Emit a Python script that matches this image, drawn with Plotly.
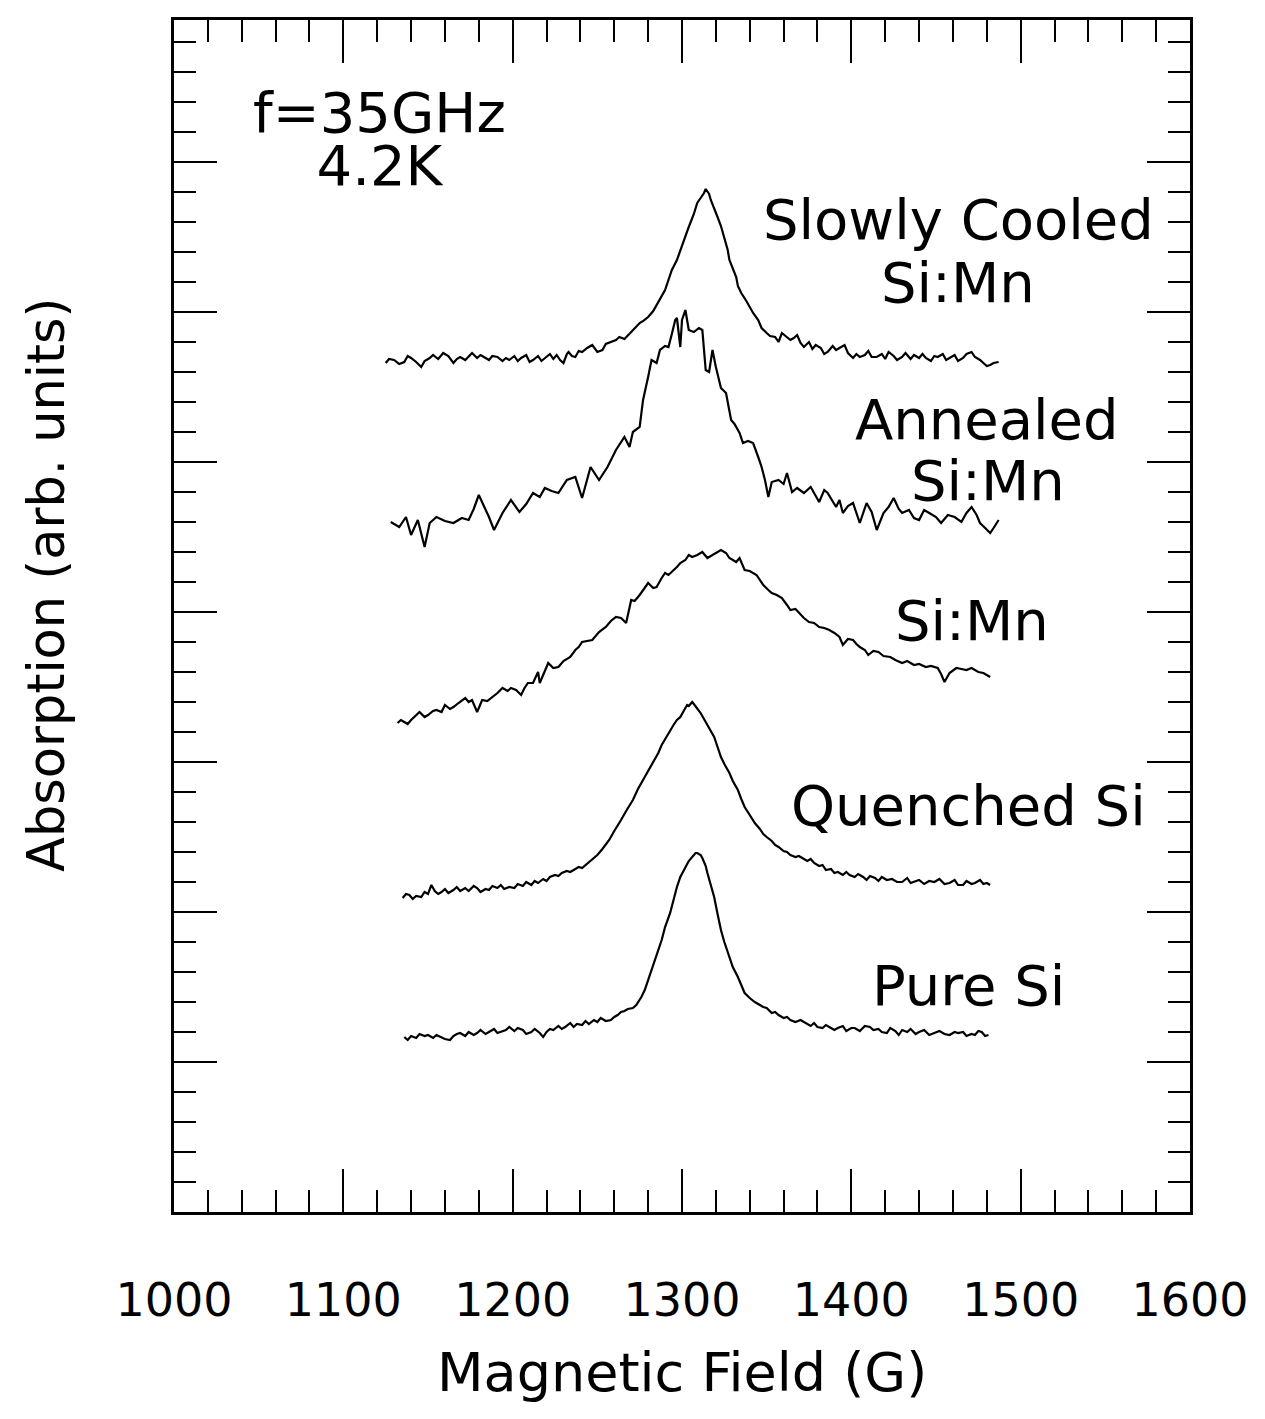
import plotly.graph_objects as go

# ---------------- data: (magnetic field [G], absorption [arb. units]) ----------------
slow_points = [
    (1125, 849), (1127, 853), (1130, 852), (1133, 848), (1136, 850), (1138, 856), (1140, 854),
    (1143, 850), (1146, 845), (1148, 851), (1151, 854), (1153, 857), (1156, 853), (1159, 859),
    (1162, 856), (1165, 849), (1167, 853), (1169, 855), (1172, 852), (1176, 859), (1179, 854),
    (1181, 857), (1183, 855), (1186, 852), (1188, 856), (1191, 855), (1194, 851), (1196, 854),
    (1198, 852), (1201, 856), (1203, 851), (1205, 854), (1208, 857), (1210, 850), (1212, 852),
    (1215, 856), (1217, 851), (1219, 854), (1222, 858), (1224, 853), (1226, 857), (1228, 852),
    (1230, 849), (1232, 858), (1233, 860), (1235, 856), (1237, 855), (1239, 861), (1241, 860),
    (1244, 864), (1247, 867), (1250, 860), (1253, 862), (1255, 868), (1258, 870), (1261, 872),
    (1263, 875), (1266, 873), (1270, 880), (1272, 884), (1275, 889), (1277, 891), (1280, 895),
    (1283, 901), (1285, 907), (1288, 915), (1290, 922), (1292, 932), (1294, 942), (1297, 952),
    (1299, 962), (1302, 975), (1304, 985), (1307, 998), (1309, 1009), (1311, 1014), (1313, 1019),
    (1314, 1023), (1316, 1018), (1317, 1012), (1319, 1004), (1321, 995), (1323, 986), (1325, 975),
    (1327, 962), (1328, 952), (1330, 943), (1332, 935), (1333, 926), (1335, 919), (1338, 911),
    (1340, 905), (1342, 899), (1345, 892), (1347, 884), (1350, 879), (1352, 876), (1355, 875),
    (1357, 870), (1359, 879), (1361, 876), (1364, 872), (1366, 874), (1368, 877), (1370, 869),
    (1372, 865), (1375, 870), (1377, 863), (1379, 867), (1382, 864), (1384, 858), (1386, 860),
    (1389, 866), (1391, 862), (1393, 864), (1396, 867), (1398, 859), (1401, 854), (1403, 858),
    (1405, 855), (1408, 857), (1410, 861), (1412, 855), (1415, 855), (1418, 858), (1420, 853),
    (1422, 860), (1425, 856), (1427, 852), (1430, 855), (1432, 859), (1435, 853), (1437, 857),
    (1440, 854), (1442, 858), (1444, 854), (1447, 851), (1449, 856), (1451, 855), (1454, 858),
    (1456, 852), (1458, 854), (1461, 857), (1463, 851), (1466, 854), (1468, 858), (1471, 860),
    (1473, 855), (1476, 852), (1478, 849), (1480, 846), (1482, 847), (1484, 849), (1487, 850),
]

ann_points = [
    (1128, 690), (1133, 685), (1137, 695), (1140, 677), (1144, 692), (1148, 665), (1151, 689),
    (1155, 695), (1160, 691), (1165, 689), (1170, 694), (1174, 692), (1177, 703), (1180, 717),
    (1183, 706), (1186, 695), (1189, 682), (1194, 699), (1199, 712), (1204, 700), (1208, 708),
    (1212, 719), (1216, 715), (1219, 724), (1223, 721), (1227, 719), (1232, 732), (1237, 735),
    (1241, 714), (1246, 745), (1251, 732), (1256, 745), (1261, 762), (1264, 770), (1266, 775),
    (1269, 765), (1271, 780), (1275, 785), (1277, 812), (1280, 835), (1282, 852), (1285, 849),
    (1287, 862), (1290, 866), (1292, 865), (1294, 878), (1296, 892), (1297, 894), (1299, 865),
    (1300, 892), (1302, 902), (1304, 882), (1307, 880), (1310, 884), (1312, 882), (1314, 842),
    (1316, 840), (1318, 862), (1320, 845), (1323, 824), (1326, 819), (1329, 792), (1331, 788),
    (1334, 779), (1336, 769), (1339, 771), (1342, 769), (1345, 755), (1347, 745), (1349, 732),
    (1351, 715), (1353, 730), (1357, 732), (1360, 728), (1362, 739), (1365, 720), (1368, 724),
    (1372, 719), (1376, 725), (1379, 716), (1381, 710), (1384, 722), (1386, 719), (1391, 705),
    (1393, 712), (1395, 699), (1398, 706), (1401, 709), (1405, 689), (1409, 709), (1412, 700),
    (1415, 682), (1419, 699), (1422, 705), (1425, 714), (1428, 703), (1430, 699), (1434, 702),
    (1437, 694), (1440, 692), (1443, 702), (1446, 699), (1450, 695), (1453, 689), (1457, 697),
    (1461, 695), (1465, 690), (1468, 699), (1471, 705), (1474, 697), (1476, 689), (1479, 684),
    (1482, 679), (1484, 684), (1487, 692),
]

simn_points = [
    (1132, 489), (1134, 492), (1136, 490), (1138, 488), (1140, 492), (1143, 497), (1145, 500),
    (1148, 495), (1150, 497), (1153, 501), (1155, 502), (1158, 500), (1160, 507), (1163, 503),
    (1165, 505), (1168, 509), (1172, 514), (1174, 510), (1176, 512), (1179, 500), (1182, 512),
    (1185, 511), (1188, 515), (1191, 519), (1194, 524), (1197, 521), (1199, 524), (1202, 522),
    (1205, 517), (1207, 524), (1209, 529), (1212, 529), (1215, 540), (1216, 529), (1219, 541),
    (1221, 549), (1224, 544), (1227, 545), (1230, 551), (1234, 555), (1237, 562), (1239, 565),
    (1241, 570), (1244, 571), (1247, 572), (1251, 580), (1255, 585), (1258, 591), (1261, 595),
    (1264, 594), (1267, 589), (1270, 612), (1272, 611), (1275, 617), (1277, 622), (1280, 629),
    (1283, 624), (1285, 625), (1288, 634), (1290, 639), (1292, 637), (1294, 640), (1297, 645),
    (1299, 649), (1302, 652), (1304, 657), (1306, 655), (1309, 657), (1312, 660), (1315, 654),
    (1318, 657), (1320, 659), (1323, 662), (1326, 659), (1328, 654), (1332, 650), (1334, 654),
    (1337, 642), (1340, 641), (1344, 637), (1346, 632), (1348, 627), (1351, 622), (1353, 619),
    (1356, 617), (1359, 614), (1362, 607), (1364, 602), (1367, 603), (1369, 599), (1372, 594),
    (1375, 590), (1378, 589), (1381, 585), (1384, 584), (1387, 582), (1390, 579), (1393, 575),
    (1395, 567), (1398, 573), (1401, 572), (1403, 568), (1405, 565), (1408, 562), (1410, 557),
    (1413, 561), (1416, 560), (1419, 556), (1423, 555), (1426, 552), (1430, 549), (1433, 551),
    (1437, 547), (1440, 548), (1444, 545), (1447, 546), (1451, 544), (1453, 538), (1455, 530),
    (1458, 539), (1462, 544), (1465, 543), (1468, 542), (1471, 544), (1475, 540), (1478, 539),
    (1482, 535),
]

quen_points = [
    (1135, 314), (1137, 318), (1139, 317), (1141, 313), (1143, 316), (1146, 315), (1148, 320),
    (1150, 318), (1152, 327), (1154, 321), (1156, 318), (1158, 320), (1160, 323), (1162, 319),
    (1165, 322), (1167, 325), (1169, 321), (1172, 324), (1174, 321), (1177, 326), (1179, 324),
    (1181, 320), (1184, 323), (1186, 322), (1188, 326), (1191, 324), (1193, 327), (1195, 323),
    (1198, 325), (1201, 324), (1203, 328), (1206, 326), (1208, 330), (1211, 327), (1213, 331),
    (1215, 329), (1218, 333), (1220, 331), (1222, 335), (1225, 337), (1227, 336), (1229, 339),
    (1232, 341), (1234, 340), (1236, 342), (1239, 345), (1241, 344), (1243, 347), (1246, 351),
    (1248, 354), (1250, 357), (1253, 363), (1255, 367), (1257, 372), (1260, 381), (1262, 386),
    (1264, 392), (1267, 401), (1269, 406), (1271, 412), (1274, 423), (1276, 429), (1278, 435),
    (1281, 445), (1283, 451), (1286, 459), (1288, 467), (1290, 473), (1293, 482), (1295, 487),
    (1297, 492), (1299, 495), (1301, 501), (1303, 507), (1304, 506), (1306, 510), (1307, 508),
    (1309, 504), (1311, 499), (1313, 493), (1314, 490), (1316, 485), (1319, 475), (1321, 465),
    (1323, 455), (1325, 448), (1328, 439), (1330, 431), (1333, 422), (1335, 413), (1337, 405),
    (1340, 397), (1343, 389), (1346, 383), (1348, 378), (1350, 375), (1353, 371), (1355, 367),
    (1357, 365), (1360, 361), (1362, 360), (1364, 357), (1367, 355), (1369, 356), (1371, 354),
    (1374, 351), (1376, 353), (1378, 349), (1381, 346), (1383, 347), (1385, 342), (1388, 343),
    (1390, 339), (1392, 340), (1395, 337), (1397, 340), (1399, 337), (1402, 335), (1404, 338),
    (1407, 335), (1409, 332), (1411, 336), (1414, 334), (1416, 331), (1418, 335), (1421, 332),
    (1424, 333), (1427, 330), (1430, 330), (1433, 334), (1435, 329), (1438, 331), (1440, 332),
    (1443, 328), (1446, 331), (1449, 330), (1452, 333), (1455, 328), (1458, 329), (1461, 332),
    (1463, 327), (1466, 327), (1468, 331), (1471, 328), (1473, 329), (1476, 332), (1478, 328),
    (1480, 329), (1482, 327),
]

pure_points = [
    (1136, 175), (1138, 172), (1140, 176), (1143, 174), (1145, 178), (1148, 176), (1150, 177),
    (1153, 174), (1155, 177), (1158, 175), (1160, 173), (1163, 172), (1165, 176), (1167, 178),
    (1169, 179), (1172, 176), (1174, 180), (1177, 177), (1179, 179), (1181, 182), (1184, 178),
    (1186, 180), (1189, 183), (1191, 179), (1193, 180), (1196, 182), (1198, 185), (1201, 181),
    (1203, 184), (1206, 182), (1208, 178), (1211, 180), (1213, 183), (1216, 179), (1218, 175),
    (1220, 180), (1222, 183), (1224, 182), (1227, 186), (1229, 183), (1231, 185), (1234, 189),
    (1236, 185), (1238, 188), (1241, 187), (1243, 191), (1245, 188), (1248, 192), (1250, 190),
    (1252, 194), (1255, 191), (1258, 192), (1260, 195), (1262, 197), (1264, 200), (1266, 201),
    (1268, 203), (1271, 204), (1273, 207), (1276, 215), (1278, 222), (1280, 232), (1282, 242),
    (1283, 249), (1285, 258), (1288, 272), (1290, 285), (1293, 299), (1295, 312), (1297, 325),
    (1299, 335), (1302, 345), (1304, 351), (1306, 355), (1308, 359), (1309, 359), (1311, 357),
    (1312, 354), (1314, 346), (1315, 339), (1317, 327), (1319, 315), (1321, 298), (1323, 282),
    (1325, 270), (1328, 255), (1330, 245), (1333, 235), (1335, 226), (1337, 219), (1340, 214),
    (1343, 210), (1346, 207), (1348, 205), (1350, 204), (1353, 199), (1355, 200), (1357, 197),
    (1360, 194), (1362, 195), (1364, 192), (1367, 190), (1370, 192), (1373, 189), (1376, 186),
    (1378, 189), (1380, 185), (1383, 184), (1385, 187), (1388, 184), (1390, 182), (1392, 184),
    (1395, 186), (1397, 181), (1400, 184), (1402, 184), (1405, 181), (1408, 186), (1411, 185),
    (1413, 182), (1416, 183), (1418, 180), (1421, 179), (1423, 184), (1426, 181), (1428, 177),
    (1430, 182), (1433, 180), (1435, 183), (1438, 178), (1440, 180), (1443, 182), (1446, 177),
    (1449, 179), (1452, 181), (1455, 178), (1458, 177), (1461, 180), (1463, 179), (1466, 180),
    (1468, 176), (1471, 178), (1473, 177), (1475, 181), (1477, 180), (1479, 176), (1481, 177),
]

# sample labels
label_text = ["Slowly Cooled", "Si:Mn", "Annealed", "Si:Mn", "Si:Mn", "Quenched Si", "Pure Si"]
label_field = [1463, 1463, 1480, 1481, 1471, 1469, 1469]
label_abs = [993, 930, 793, 732, 592, 407, 227]

# measurement conditions (two-line block)
cond_lines = ["f=35GHz", "4.2K"]
cond_field = 1121.5
cond_abs = 1073

x_tickvals = [1000, 1100, 1200, 1300, 1400, 1500, 1600]
x_ticktext = ["1000", "1100", "1200", "1300", "1400", "1500", "1600"]

FONT = "DejaVu Sans"

fig = go.Figure()
for pts in [slow_points, ann_points, simn_points, quen_points, pure_points]:
    fig.add_trace(go.Scatter(x=[p[0] for p in pts], y=[p[1] for p in pts], mode="lines",
                             line=dict(color="black", width=2.2), showlegend=False,
                             hoverinfo="skip"))

for t, lx, ly in zip(label_text, label_field, label_abs):
    fig.add_annotation(x=lx, y=ly, xref="x", yref="y", text=t, showarrow=False,
                       xanchor="center", yanchor="middle",
                       font=dict(family=FONT, size=56, color="black"))

# condition block: small base font keeps line spacing tight, spans carry the glyph size
cond_text = "<br>".join('<span style="font-size:56px">%s</span>' % s for s in cond_lines)
fig.add_annotation(x=cond_field, y=cond_abs, xref="x", yref="y", text=cond_text,
                   showarrow=False, xanchor="center", yanchor="middle", align="center",
                   font=dict(family=FONT, size=41, color="black"))

# axis titles
fig.add_annotation(x=0.5, y=-0.135, xref="paper", yref="paper", text="Magnetic Field (G)",
                   showarrow=False, xanchor="center", yanchor="middle",
                   font=dict(family=FONT, size=54, color="black"))
fig.add_annotation(x=-0.126, y=0.526, xref="paper", yref="paper", text="Absorption (arb. units)",
                   showarrow=False, textangle=-90, xanchor="center", yanchor="middle",
                   font=dict(family=FONT, size=51, color="black"))

fig.update_layout(
    width=1265, height=1419,
    margin=dict(l=174, r=75, t=20, b=207),
    paper_bgcolor="white", plot_bgcolor="white",
    xaxis=dict(range=[1000, 1600], tickmode="array", tickvals=x_tickvals, ticktext=x_ticktext,
               ticks="inside", ticklen=43, tickwidth=2, tickcolor="black",
               minor=dict(dtick=20, tick0=1000, ticks="inside", ticklen=22, tickwidth=2,
                          tickcolor="black", showgrid=False),
               showline=True, linecolor="black", linewidth=3, mirror="allticks",
               showgrid=False, zeroline=False, ticklabelstandoff=46,
               tickfont=dict(family=FONT, size=46, color="black")),
    yaxis=dict(range=[0, 1192], tick0=0, dtick=150,
               ticks="inside", ticklen=43, tickwidth=2, tickcolor="black",
               minor=dict(dtick=30, tick0=0, ticks="inside", ticklen=22, tickwidth=2,
                          tickcolor="black", showgrid=False),
               showline=True, linecolor="black", linewidth=3, mirror="allticks",
               showgrid=False, zeroline=False, showticklabels=False),
)

fig.write_html("out.html", config={"displayModeBar": False},
               post_script="document.body.style.margin='0';document.body.style.overflow='hidden';")
